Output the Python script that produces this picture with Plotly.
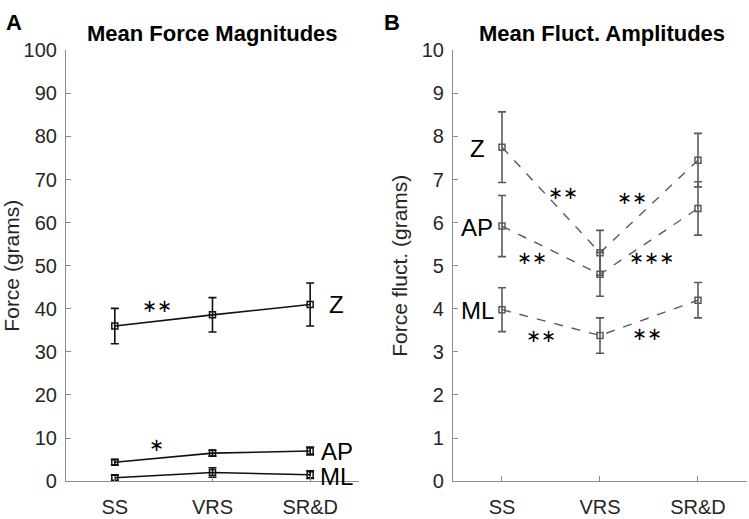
import plotly.graph_objects as go

conditions = ["SS", "VRS", "SR&D"]
xpos = [1, 2, 3]

# Panel A: mean force magnitudes (grams)
force_z = [36.0, 38.6, 41.0]
force_z_err = [4.1, 4.0, 5.0]
force_ap = [4.4, 6.5, 7.0]
force_ap_err = [0.6, 0.7, 0.9]
force_ml = [0.8, 2.0, 1.5]
force_ml_err = [0.6, 1.1, 0.9]

# Panel B: mean fluctuation amplitudes (grams)
fluct_z = [7.75, 5.3, 7.45]
fluct_z_err = [0.82, 0.52, 0.62]
fluct_ap = [5.92, 4.8, 6.33]
fluct_ap_err = [0.71, 0.51, 0.62]
fluct_ml = [3.98, 3.38, 4.2]
fluct_ml_err = [0.51, 0.41, 0.41]

FONT = "Liberation Sans, Arial, sans-serif"
STARFONT = "DejaVu Sans"
TXT = "#262626"
AXC = "#8c8c8c"

fig = go.Figure()

def add_series(y, err, color, dash, xa, ya, width=1.6):
    fig.add_trace(go.Scatter(
        x=xpos, y=y, xaxis=xa, yaxis=ya, mode="lines+markers",
        line=dict(color=color, width=width, dash=dash),
        marker=dict(symbol="square-open", size=6, color=color, line=dict(width=1.5, color=color)),
        error_y=dict(type="data", array=err, visible=True, color=color, thickness=1.6, width=4),
        showlegend=False, hoverinfo="skip"))

for y, e in [(force_z, force_z_err), (force_ap, force_ap_err), (force_ml, force_ml_err)]:
    add_series(y, e, "#111111", "solid", "x", "y")
for y, e in [(fluct_z, fluct_z_err), (fluct_ap, fluct_ap_err), (fluct_ml, fluct_ml_err)]:
    add_series(y, e, "#5a5a5a", "dash", "x2", "y2", width=1.4)

axis_common = dict(showline=True, linecolor=AXC, linewidth=1, ticks="inside", ticklen=5,
                   tickcolor=AXC, showgrid=False, zeroline=False,
                   tickfont=dict(family=FONT, size=20, color=TXT))

fig.update_layout(
    width=749, height=519, margin=dict(l=0, r=0, t=0, b=0),
    plot_bgcolor="white", paper_bgcolor="white",
    xaxis=dict(domain=[0.0881, 0.4793], range=[0.5, 3.5], tickvals=xpos, ticktext=conditions,
               anchor="y", ticklabelstandoff=8, **axis_common),
    yaxis=dict(domain=[0.054, 0.921], range=[0, 100], tickvals=list(range(0, 101, 10)),
               anchor="x", ticklabelstandoff=4,
               title=dict(text="Force (grams)", font=dict(family=FONT, size=21, color=TXT), standoff=2),
               **axis_common),
    xaxis2=dict(domain=[0.6048, 0.9973], range=[0.5, 3.5], tickvals=xpos, ticktext=conditions,
                anchor="y2", ticklabelstandoff=8, **axis_common),
    yaxis2=dict(domain=[0.054, 0.921], range=[0, 10], tickvals=list(range(0, 11)),
                anchor="x2", ticklabelstandoff=4,
                title=dict(text="Force fluct. (grams)", font=dict(family=FONT, size=21, color=TXT), standoff=8),
                **axis_common),
)

ann = []
def label(x, y, text, xref, yref, size=24, family=FONT):
    ann.append(dict(x=x, y=y, xref=xref, yref=yref, text=text, xanchor="center", yanchor="middle",
                    showarrow=False, font=dict(family=family, size=size, color="#000000")))

# series labels
label(3.27, 41.0, "Z", "x", "y")
label(3.27, 6.9, "AP", "x", "y")
label(3.27, 1.1, "ML", "x", "y")
label(0.75, 7.73, "Z", "x2", "y2")
label(0.75, 5.89, "AP", "x2", "y2")
label(0.75, 3.95, "ML", "x2", "y2")

# significance stars
stars = [
    (1.43, 40.7, "∗∗", "x", "y"),
    (1.43, 8.6, "∗", "x", "y"),
    (1.62, 6.70, "∗∗", "x2", "y2"),
    (2.33, 6.59, "∗∗", "x2", "y2"),
    (1.31, 5.19, "∗∗", "x2", "y2"),
    (2.53, 5.19, "∗∗∗", "x2", "y2"),
    (1.40, 3.37, "∗∗", "x2", "y2"),
    (2.48, 3.43, "∗∗", "x2", "y2"),
]
for x, y, t, xr, yr in stars:
    label(x, y, t, xr, yr, size=18, family=STARFONT)

# titles and panel letters
for x, txt in [(212 / 749, "Mean Force Magnitudes"), (602 / 749, "Mean Fluct. Amplitudes")]:
    ann.append(dict(x=x, y=1 - 23 / 519, xref="paper", yref="paper", showarrow=False,
                    xanchor="center", yanchor="middle",
                    text="<b>%s</b>" % txt, font=dict(family=FONT, size=22, color="#000000")))
for x, txt in [(14 / 749, "A"), (392 / 749, "B")]:
    ann.append(dict(x=x, y=1 - 12 / 519, xref="paper", yref="paper", showarrow=False,
                    xanchor="center", yanchor="middle",
                    text="<b>%s</b>" % txt, font=dict(family=FONT, size=22, color="#000000")))

fig.update_layout(annotations=ann)
fig.write_html("out.html")
